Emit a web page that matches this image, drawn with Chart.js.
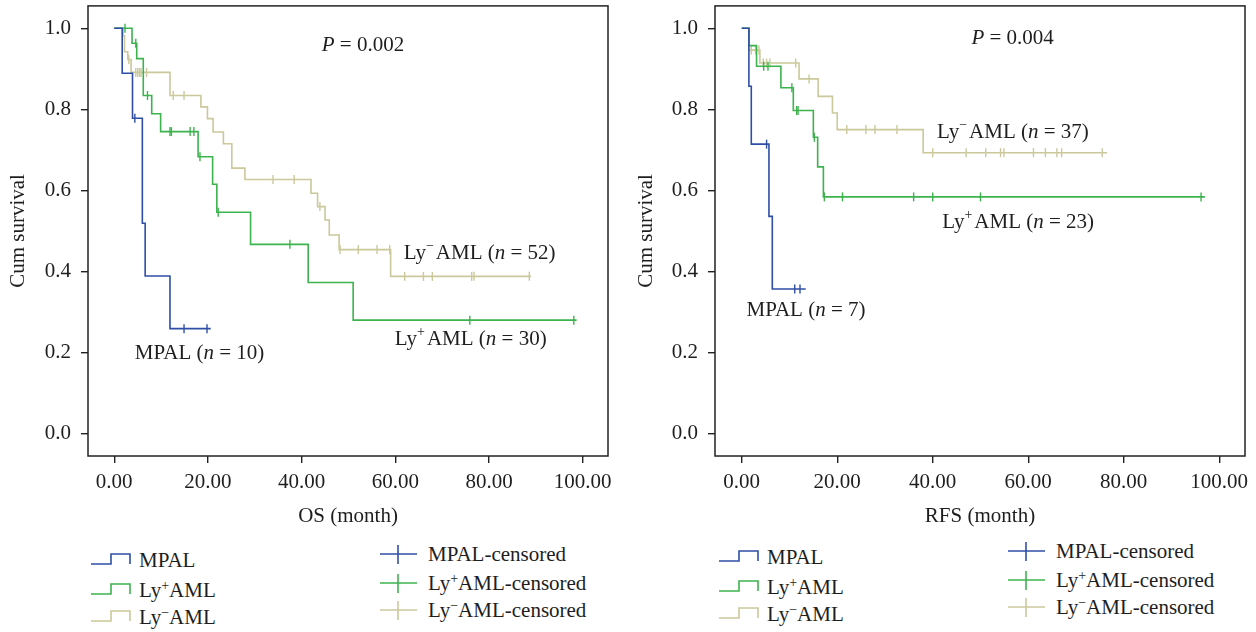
<!DOCTYPE html>
<html>
<head>
<meta charset="utf-8">
<script src="https://cdn.jsdelivr.net/npm/chart.js@4.4.1/dist/chart.umd.min.js"></script>
<style>
  body { margin: 0; background: #fff; font-family: "Liberation Serif", serif; color: #1e1e1e; }
  .panel { position: absolute; top: 0; width: 628px; height: 632px; }
  .panel canvas { position: absolute; left: 0; top: 0; }
  .lg { position: absolute; font-size: 21px; line-height: 24px; white-space: nowrap; }
  .lg sup { font-size: 14px; vertical-align: 7px; line-height: 0; }
  .lg svg { position: absolute; }
</style>
</head>
<body>
<div class="panel" id="panelOS" style="left:0"><canvas id="osChart" width="628" height="535"></canvas></div>
<div class="panel" id="panelRFS" style="left:628px"><canvas id="rfsChart" width="628" height="535"></canvas></div>
<script>
// groups, drawn in this order (first one ends up on top)
const groupNames = ["MPAL", "Ly+AML", "Ly-AML"];
const groupColors = ["#2f4fa6", "#3db34e", "#cbc89b"];
const xTicks = [0, 20, 40, 60, 80, 100];
const yTicks = [0, 0.2, 0.4, 0.6, 0.8, 1.0];

// OS: event times (month) and survival after each step; last point = end of follow-up
const osMpalTime = [0, 1.7, 3.9, 6.0, 6.6, 11.9, 20.6];
const osMpalSurv = [1, 0.889, 0.778, 0.519, 0.389, 0.259, 0.259];
const osMpalCens = [4.4, 14.9, 19.8];

const osPosTime = [0, 3.8, 4.8, 6.2, 8.0, 9.9, 17.9, 21.0, 21.9, 29.1, 41.4, 51.0, 98.7];
const osPosSurv = [1, 0.963, 0.925, 0.834, 0.789, 0.745, 0.683, 0.615, 0.546, 0.467, 0.373, 0.280, 0.280];
const osPosCens = [2.3, 4.6, 7.1, 11.9, 12.2, 16.2, 17.0, 18.3, 22.2, 37.5, 75.9, 98.1];

const osNegTime = [0, 1.9, 2.2, 2.9, 3.6, 11.9, 18.5, 19.9, 21.1, 23.3, 25.1, 27.9, 42.0, 43.4, 45.0, 45.9, 48.0, 59.0, 89.0];
const osNegSurv = [1, 0.981, 0.942, 0.923, 0.891, 0.834, 0.806, 0.777, 0.744, 0.715, 0.655, 0.627, 0.593, 0.560, 0.527, 0.490, 0.454, 0.388, 0.388];
const osNegCens = [3.1, 4.6, 5.0, 5.4, 5.7, 6.9, 12.6, 14.9, 33.9, 38.4, 43.9, 48.2, 52.1, 56.1, 58.8, 62.0, 66.0, 67.9, 76.3, 76.8, 88.6];

// RFS
const rfsMpalTime = [0, 1.5, 2.0, 5.7, 6.4, 13.4];
const rfsMpalSurv = [1, 0.857, 0.714, 0.536, 0.357, 0.357];
const rfsMpalCens = [5.2, 11.1, 12.2];

const rfsPosTime = [0, 1.5, 3.1, 8.2, 10.8, 15.0, 15.9, 17.1, 97.0];
const rfsPosSurv = [1, 0.957, 0.906, 0.853, 0.797, 0.731, 0.658, 0.584, 0.584];
const rfsPosCens = [4.6, 5.5, 10.5, 11.5, 11.8, 15.2, 17.3, 21.1, 36.0, 40.0, 50.0, 96.2];

const rfsNegTime = [0, 1.5, 3.8, 12.0, 16.0, 19.0, 20.0, 38.0, 76.5];
const rfsNegSurv = [1, 0.946, 0.914, 0.875, 0.832, 0.791, 0.750, 0.693, 0.693];
const rfsNegCens = [2.0, 2.9, 3.6, 4.5, 5.2, 5.9, 11.3, 14.1, 22.0, 26.0, 27.9, 32.5, 40.0, 47.0, 51.1, 54.2, 54.9, 61.1, 63.6, 66.0, 67.0, 75.5];

const FONT = '"Liberation Serif", serif';
const INK = "#1e1e1e";
const SIZE = 21;

// survival level of a step curve at time t
function levelAt(times, surv, t) {
  let v = surv[0];
  for (let i = 0; i < times.length; i++) if (times[i] <= t) v = surv[i];
  return v;
}

function buildDatasets(groups) {
  const sets = [];
  groups.forEach((g, i) => {
    sets.push({
      label: groupNames[i],
      data: g.time.map((t, k) => ({ x: t, y: g.surv[k] })),
      stepped: true,
      borderColor: groupColors[i],
      borderWidth: 1.6,
      pointRadius: 0,
      fill: false
    });
    sets.push({
      label: groupNames[i] + "-censored",
      data: g.cens.map(t => ({ x: t, y: levelAt(g.time, g.surv, t) })),
      showLine: false,
      pointStyle: "line",
      pointRotation: 90,
      pointRadius: 4.5,
      pointBorderWidth: 1.4,
      pointBorderColor: groupColors[i],
      pointBackgroundColor: groupColors[i]
    });
  });
  return sets;
}

// frame round the plot area
const framePlugin = {
  id: "frame",
  afterDraw(chart) {
    const { ctx, chartArea: a } = chart;
    ctx.save();
    ctx.strokeStyle = "#222";
    ctx.lineWidth = 1.5;
    ctx.strokeRect(a.left, a.top, a.right - a.left, a.bottom - a.top);
    ctx.restore();
  }
};

// text labels inside the plot (P value, group names)
const notesPlugin = {
  id: "notes",
  afterDatasetsDraw(chart, args, opts) {
    const { ctx, scales: { x, y } } = chart;
    ctx.save();
    ctx.fillStyle = INK;
    ctx.textBaseline = "middle";
    for (const note of opts.items) {
      let px = x.getPixelForValue(note.x);
      const py = y.getPixelForValue(note.y);
      for (const [text, style] of note.runs) {
        if (style === "sup") ctx.font = "14px " + FONT;
        else if (style === "i") ctx.font = "italic " + SIZE + "px " + FONT;
        else ctx.font = SIZE + "px " + FONT;
        ctx.fillText(text, px, style === "sup" ? py - 7 : py);
        px += ctx.measureText(text).width + (style === "sup" ? 2 : 0);
      }
    }
    ctx.restore();
  }
};

function groupNote(x, y, sign, n) {
  const runs = sign ? [["Ly", ""], [sign, "sup"], ["AML (", ""]] : [["MPAL (", ""]];
  return { x, y, runs: runs.concat([["n", "i"], [" = " + n + ")", ""]]) };
}

function makeChart(id, groups, xTitle, notes, axisWidth, padRight) {
  const font = { family: FONT, size: SIZE };
  return new Chart(document.getElementById(id), {
    type: "line",
    data: { datasets: buildDatasets(groups) },
    options: {
      responsive: false,
      animation: false,
      layout: { padding: { top: 5, right: padRight, left: 0, bottom: 0 } },
      plugins: {
        legend: { display: false },
        tooltip: { enabled: false },
        notes: { items: notes }
      },
      scales: {
        x: {
          type: "linear",
          min: -5.6,
          max: 105.4,
          afterBuildTicks: s => { s.ticks = xTicks.map(v => ({ value: v })); },
          afterFit: s => { s.height = 79; s.paddingLeft = 0; s.paddingRight = 0; },
          ticks: { callback: v => v.toFixed(2), font, color: INK, padding: 7, maxRotation: 0, autoSkip: false },
          grid: { drawOnChartArea: false, drawTicks: true, tickLength: 7, color: "#222", lineWidth: 1.4 },
          border: { display: false },
          title: { display: true, text: xTitle, font, color: INK, padding: { top: 0, bottom: 6 } }
        },
        y: {
          type: "linear",
          min: -0.055,
          max: 1.055,
          afterBuildTicks: s => { s.ticks = yTicks.map(v => ({ value: v })); },
          afterFit: s => { s.width = axisWidth; s.paddingTop = 0; s.paddingBottom = 0; },
          ticks: { callback: v => v.toFixed(1), font, color: INK, padding: 10, autoSkip: false },
          grid: { drawOnChartArea: false, drawTicks: true, tickLength: 7, color: "#222", lineWidth: 1.4 },
          border: { display: false },
          title: { display: true, text: "Cum survival", font, color: INK, padding: { top: 6, bottom: 0 } }
        }
      }
    },
    plugins: [framePlugin, notesPlugin]
  });
}

makeChart("osChart", [
  { time: osMpalTime, surv: osMpalSurv, cens: osMpalCens },
  { time: osPosTime, surv: osPosSurv, cens: osPosCens },
  { time: osNegTime, surv: osNegSurv, cens: osNegCens }
], "OS (month)", [
  { x: 44.3, y: 0.958, runs: [["P", "i"], [" = 0.002", ""]] },
  groupNote(61.8, 0.444, "\u2212", 52),
  groupNote(59.9, 0.232, "+", 30),
  groupNote(4.4, 0.198, null, 10)
], 88, 20);

makeChart("rfsChart", [
  { time: rfsMpalTime, surv: rfsMpalSurv, cens: rfsMpalCens },
  { time: rfsPosTime, surv: rfsPosSurv, cens: rfsPosCens },
  { time: rfsNegTime, surv: rfsNegSurv, cens: rfsNegCens }
], "RFS (month)", [
  { x: 48.1, y: 0.975, runs: [["P", "i"], [" = 0.004", ""]] },
  groupNote(40.9, 0.743, "\u2212", 37),
  groupNote(42.0, 0.522, "+", 23),
  groupNote(1.0, 0.305, null, 7)
], 87, 11);

// legend under each plot: step lines on the left, censor marks on the right
const legendHtml = ["MPAL", "Ly<sup>+</sup>AML", "Ly<sup>\u2212</sup>AML"];
function buildLegend(panelId, dy) {
  const panel = document.getElementById(panelId);
  const stepRows = [560, 590, 617];
  const censRows = [554, 583, 610];
  groupColors.forEach((c, i) => {
    const a = document.createElement("div");
    a.className = "lg";
    a.style.left = "91px";
    a.style.top = (stepRows[i] + dy - 12) + "px";
    a.innerHTML = '<svg width="40" height="14" style="left:0;top:4px"><polyline points="0,12 20,12 20,2 39,2 39,12" fill="none" stroke="' + c + '" stroke-width="1.6"/></svg>' +
      '<span style="position:absolute;left:48px;top:0">' + legendHtml[i] + "</span>";
    panel.appendChild(a);
    const b = document.createElement("div");
    b.className = "lg";
    b.style.left = "379px";
    b.style.top = (censRows[i] + dy - 12) + "px";
    b.innerHTML = '<svg width="40" height="22" style="left:0;top:2px"><line x1="1" y1="10" x2="38" y2="10" stroke="' + c + '" stroke-width="1.6"/><line x1="19" y1="1" x2="19" y2="20" stroke="' + c + '" stroke-width="1.6"/></svg>' +
      '<span style="position:absolute;left:49px;top:0">' + legendHtml[i] + "-censored</span>";
    panel.appendChild(b);
  });
}
buildLegend("panelOS", 0);
buildLegend("panelRFS", -3);
</script>
</body>
</html>
